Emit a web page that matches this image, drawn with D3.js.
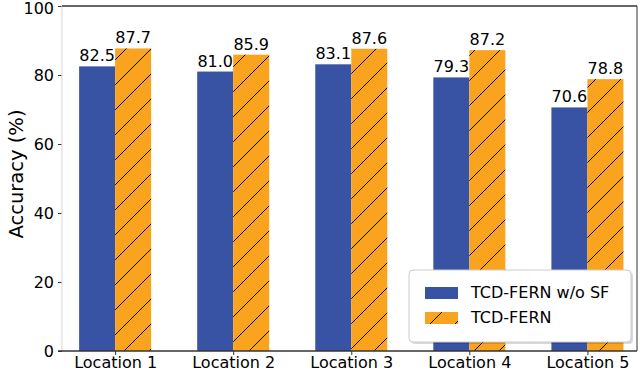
<!DOCTYPE html>
<html>
<head>
<meta charset="utf-8">
<script src="https://cdn.jsdelivr.net/npm/d3@7"></script>
<style>
  body { margin: 0; background: #fff; }
  text { font-family: "DejaVu Sans", sans-serif; fill: #000; }
</style>
</head>
<body>
<svg width="640" height="372"></svg>
<script>
const categories = ["Location 1", "Location 2", "Location 3", "Location 4", "Location 5"]
const woSF = [82.5, 81.0, 83.1, 79.3, 70.6]
const fern = [87.7, 85.9, 87.6, 87.2, 78.8]
const seriesNames = ["TCD-FERN w/o SF", "TCD-FERN"]
const yTicks = [0, 20, 40, 60, 80, 100]

const blue = "#3953a4"
const orange = "#f9a31f"

const svg = d3.select("svg")
const plotLeft = 62, plotRight = 637, plotTop = 6, plotBottom = 351
const barW = 0.305

const x = d3.scaleLinear().domain([-0.45, 4.42]).range([plotLeft, plotRight])
const y = d3.scaleLinear().domain([0, 100]).range([plotBottom, plotTop])

// hatch pattern for the second series
const defs = svg.append("defs")
const pat = defs.append("pattern")
  .attr("id", "hatch")
  .attr("patternUnits", "userSpaceOnUse")
  .attr("width", 25)
  .attr("height", 25)
pat.append("rect").attr("width", 25).attr("height", 25).attr("fill", orange)
pat.append("path")
  .attr("d", "M-5,5 L5,-5 M0,25 L25,0 M20,30 L30,20")
  .attr("stroke", "#000")
  .attr("stroke-width", 1)

// bars
const bars = svg.append("g")
bars.selectAll("rect.a").data(woSF).enter().append("rect")
  .attr("class", "a")
  .attr("x", (d, i) => x(i - barW))
  .attr("width", x(barW) - x(0))
  .attr("y", d => y(d))
  .attr("height", d => y(0) - y(d))
  .attr("fill", blue)
bars.selectAll("rect.b").data(fern).enter().append("rect")
  .attr("class", "b")
  .attr("x", (d, i) => x(i))
  .attr("width", x(barW) - x(0))
  .attr("y", d => y(d))
  .attr("height", d => y(0) - y(d))
  .attr("fill", "url(#hatch)")

// value labels
const labels = svg.append("g").attr("font-size", 16).attr("text-anchor", "middle")
labels.selectAll("text.a").data(woSF).enter().append("text")
  .attr("x", (d, i) => x(i - barW / 2))
  .attr("y", d => y(d) - 5)
  .text(d => d.toFixed(1))
labels.selectAll("text.b").data(fern).enter().append("text")
  .attr("x", (d, i) => x(i + barW / 2))
  .attr("y", d => y(d) - 5)
  .text(d => d.toFixed(1))

// axes
const yAxis = d3.axisLeft(y).tickValues(yTicks).tickSize(4).tickPadding(4)
const gy = svg.append("g").attr("transform", `translate(${plotLeft},0)`).call(yAxis)
gy.select(".domain").remove()
gy.selectAll("text").attr("font-size", 16).attr("font-family", "DejaVu Sans")
gy.selectAll("line").attr("stroke", "#333")
gy.selectAll(".tick").filter(d => d === 100).select("text").attr("dy", "0.45em")

const xAxis = d3.axisBottom(x).tickValues(d3.range(categories.length))
  .tickFormat(i => categories[i]).tickSize(4).tickPadding(2)
const gx = svg.append("g").attr("transform", `translate(0,${plotBottom})`).call(xAxis)
gx.select(".domain").remove()
gx.selectAll("text").attr("font-size", 16).attr("font-family", "DejaVu Sans")
gx.selectAll("line").attr("stroke", "#333")

// spines
svg.append("line").attr("x1", plotLeft).attr("x2", plotLeft).attr("y1", plotTop).attr("y2", plotBottom)
  .attr("stroke", "#ddd").attr("stroke-width", 1.2)
svg.append("line").attr("x1", plotRight).attr("x2", plotRight).attr("y1", plotTop).attr("y2", plotBottom)
  .attr("stroke", "#555").attr("stroke-width", 1.2)
svg.append("line").attr("x1", plotLeft).attr("x2", plotRight).attr("y1", plotTop).attr("y2", plotTop)
  .attr("stroke", "#333").attr("stroke-width", 1.4)
svg.append("line").attr("x1", plotLeft - 4).attr("x2", plotRight).attr("y1", plotBottom).attr("y2", plotBottom)
  .attr("stroke", "#333").attr("stroke-width", 1.4)

svg.append("text")
  .attr("transform", "translate(23,174) rotate(-90)")
  .attr("text-anchor", "middle")
  .attr("font-size", 19.5)
  .text("Accuracy (%)")

// legend
const lg = svg.append("g").attr("transform", "translate(409,270)")
lg.append("rect").attr("x", 2).attr("y", 2).attr("width", 222).attr("height", 72).attr("rx", 4)
  .attr("fill", "#000").attr("opacity", 0.15)
lg.append("rect").attr("width", 222).attr("height", 72).attr("rx", 4)
  .attr("fill", "#fff").attr("stroke", "#ccc")
const fills = [blue, "url(#hatch)"]
seriesNames.forEach((name, i) => {
  lg.append("rect").attr("x", 16).attr("y", 17 + i * 25).attr("width", 33).attr("height", 12)
    .attr("fill", fills[i])
  lg.append("text").attr("x", 62).attr("y", 28 + i * 25).attr("font-size", 16).text(name)
})
</script>
</body>
</html>
